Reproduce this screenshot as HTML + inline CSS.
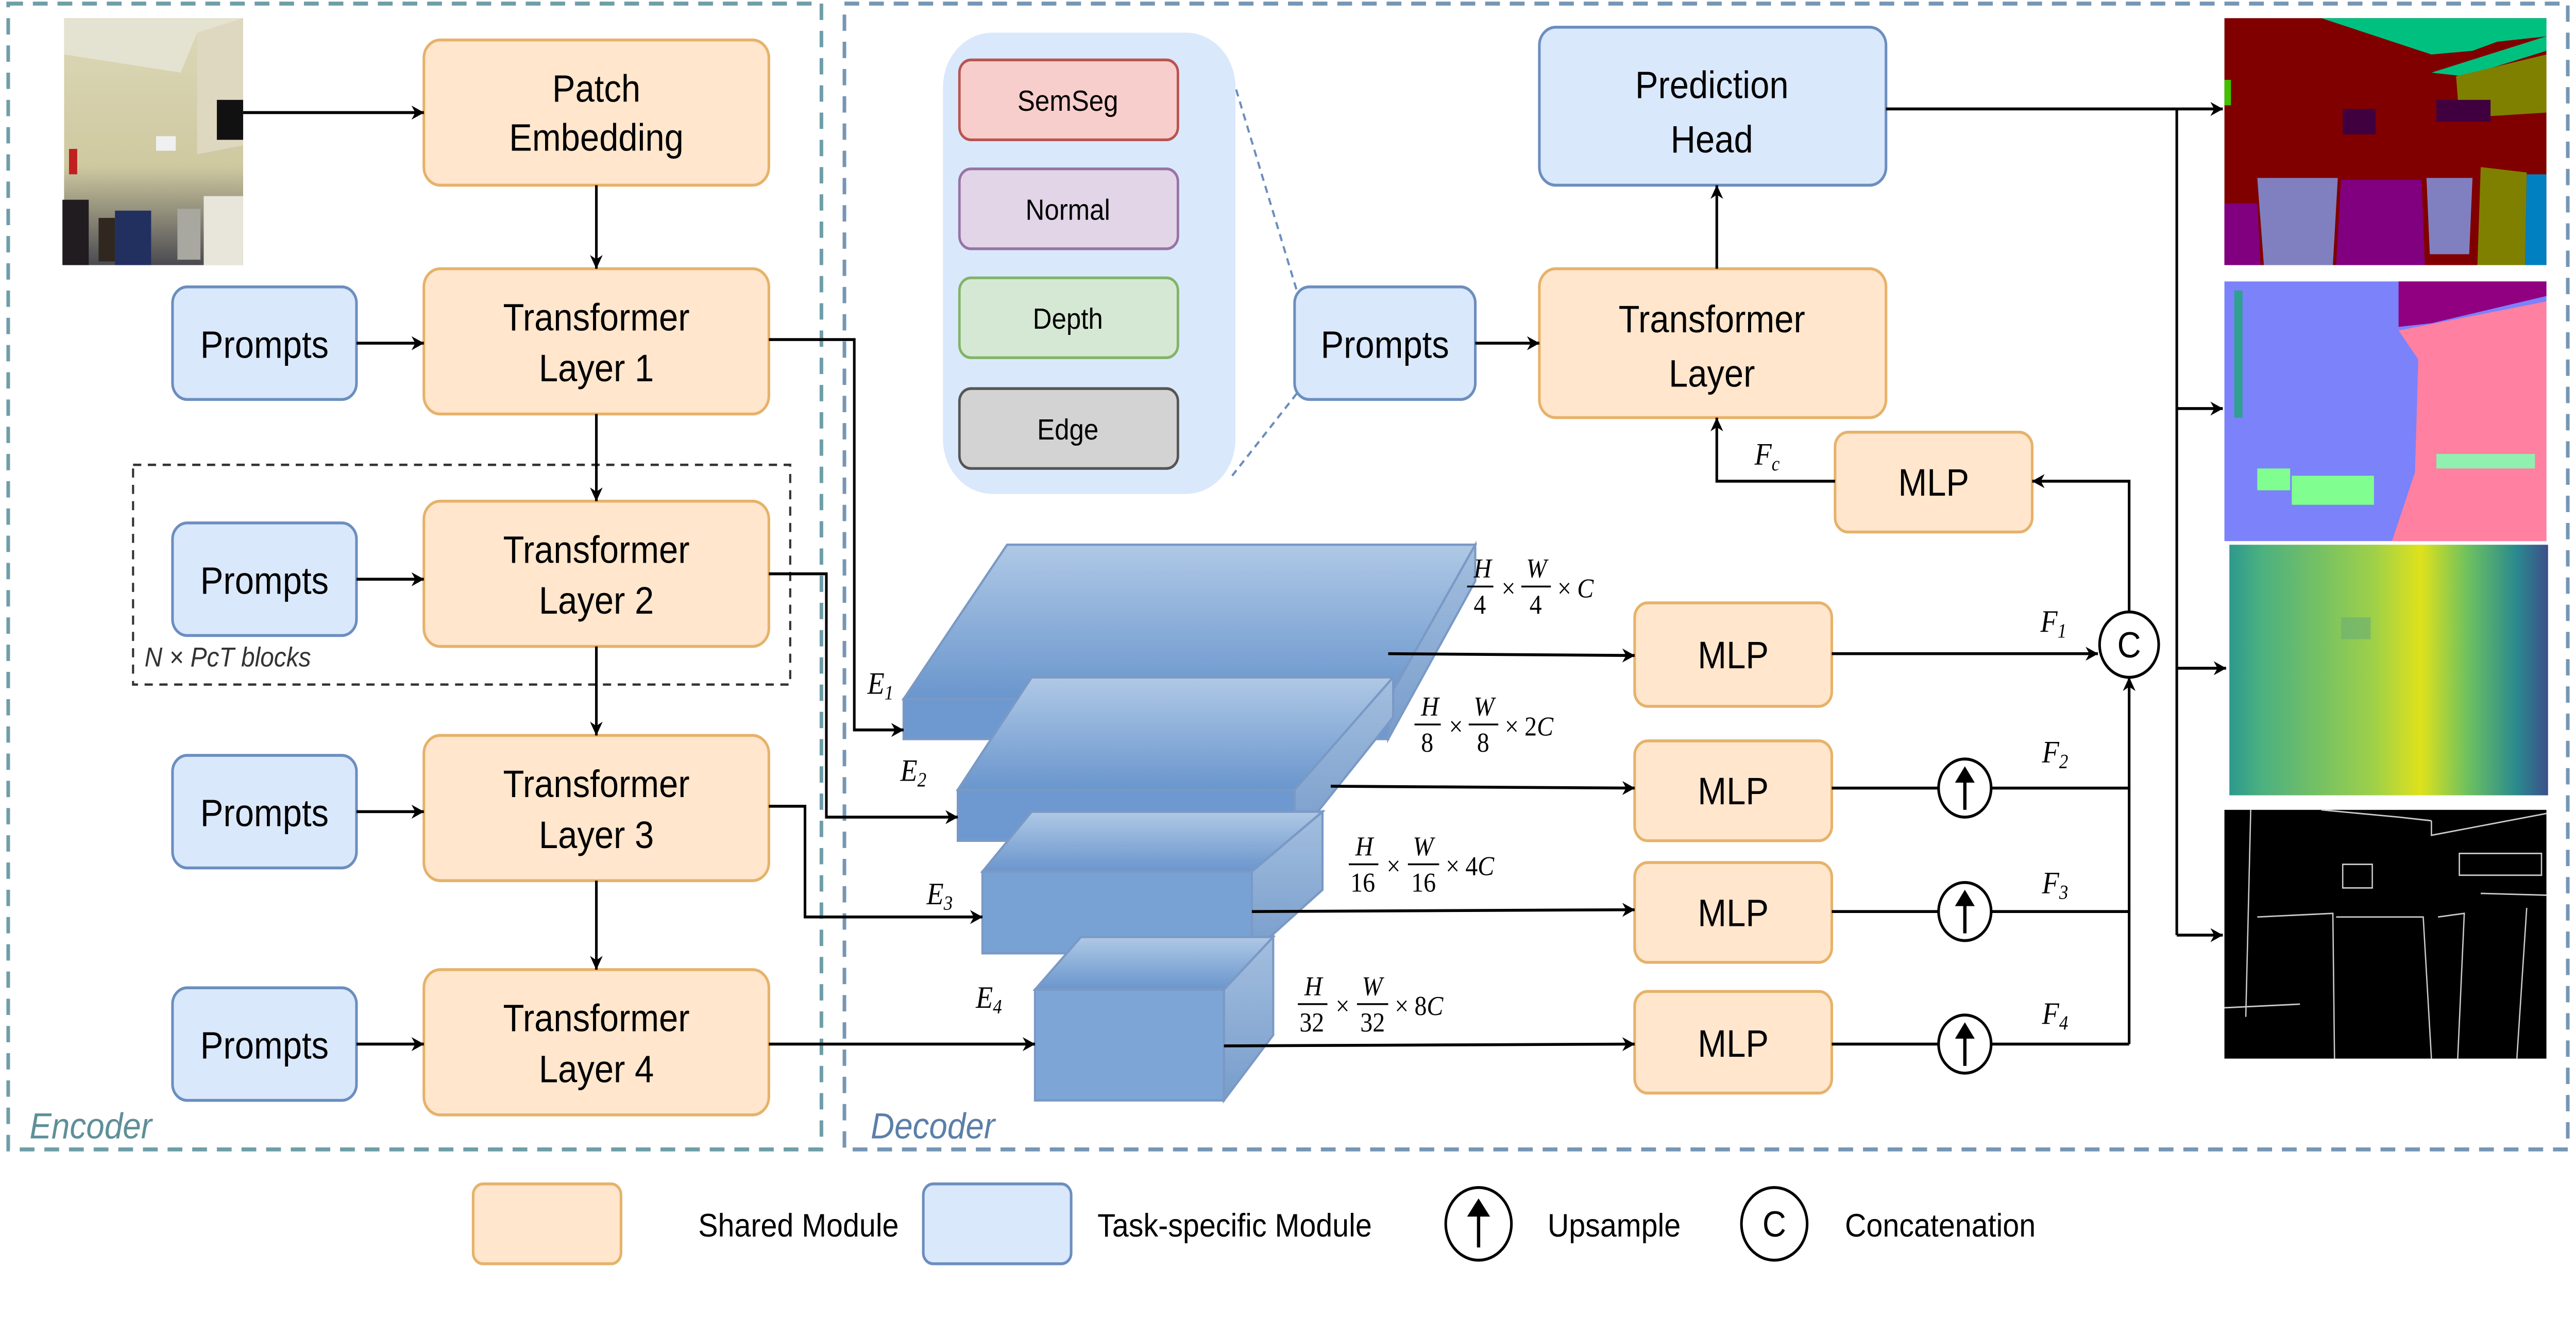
<!DOCTYPE html>
<html><head><meta charset="utf-8"><style>
html,body{margin:0;padding:0;background:#fff;width:100%;height:100%;overflow:hidden;}
svg{display:block;width:100vw;height:100vh;}
text{font-family:"Liberation Sans",sans-serif;}
.m{font-family:"Liberation Serif",serif;font-style:italic;}
.n{font-family:"Liberation Serif",serif;}
</style></head><body>
<svg viewBox="0 0 1568 726.4" preserveAspectRatio="none" xmlns="http://www.w3.org/2000/svg">
<defs>
<marker id="a" viewBox="0 0 10 10" refX="9.5" refY="5" markerWidth="5.5" markerHeight="5.5" orient="auto" markerUnits="userSpaceOnUse" style="overflow:visible">
<path d="M0,0 L10,5 L0,10 L3,5 Z" fill="#000" transform="scale(1.4) translate(-3,-1.4)"/>
</marker>
<linearGradient id="cg" x1="0" y1="0" x2="0" y2="1"><stop offset="0" stop-color="#a7c3e3"/><stop offset="1" stop-color="#5a8bc8"/></linearGradient>
<linearGradient id="cs" x1="0" y1="0" x2="0" y2="1"><stop offset="0" stop-color="#9ab8dc"/><stop offset="1" stop-color="#6a93c6"/></linearGradient>
<linearGradient id="dg" x1="0" y1="0" x2="1" y2="0"><stop offset="0" stop-color="#2c9a8e"/><stop offset="0.1" stop-color="#4cb080"/><stop offset="0.45" stop-color="#9dd04a"/><stop offset="0.6" stop-color="#dfe21c"/><stop offset="0.75" stop-color="#6cc060"/><stop offset="0.9" stop-color="#2a8a8e"/><stop offset="1" stop-color="#3c4f8a"/></linearGradient>
<linearGradient id="pg" x1="0" y1="0" x2="0" y2="1"><stop offset="0" stop-color="#dcd8b8"/><stop offset="0.6" stop-color="#cfc9a0"/><stop offset="1" stop-color="#4a4a50"/></linearGradient>
</defs>

<rect x="5" y="2" width="495" height="631" fill="none" stroke="#6e9ea8" stroke-width="2.2" stroke-dasharray="9,6"/>
<rect x="514" y="2" width="1049" height="631" fill="none" stroke="#7696b4" stroke-width="2.2" stroke-dasharray="9,6"/>
<text x="18" y="627" font-size="20" font-style="italic" fill="#5e8f98">Encoder</text>
<text x="530" y="627" font-size="20" font-style="italic" fill="#5b7fa8">Decoder</text>

<g>
<rect x="39" y="10" width="109" height="136" fill="url(#pg)"/>
<polygon points="39,10 148,10 148,18 120,18 110,40 39,30" fill="#e4e2d0"/>
<polygon points="120,18 148,10 148,80 120,85" fill="#ded8c0"/>
<rect x="132" y="55" width="16" height="22" fill="#111"/>
<rect x="95" y="75" width="12" height="8" fill="#f0f0f0"/>
<rect x="38" y="110" width="16" height="36" fill="#201c20"/>
<rect x="70" y="116" width="22" height="30" fill="#223060"/>
<rect x="108" y="115" width="14" height="28" fill="#a8a8a0"/>
<rect x="124" y="108" width="24" height="38" fill="#e8e6da"/>
<rect x="60" y="120" width="10" height="24" fill="#302820"/>
<rect x="42" y="82" width="5" height="14" fill="#c02020"/>
</g>

<g fill="#ffe6cc" stroke="#e6b26a" stroke-width="1.6">
<rect x="258" y="22" width="210" height="80" rx="10"/>
<rect x="258" y="148" width="210" height="80" rx="10"/>
<rect x="258" y="276" width="210" height="80" rx="10"/>
<rect x="258" y="405" width="210" height="80" rx="10"/>
<rect x="258" y="534" width="210" height="80" rx="10"/>
<rect x="937" y="148" width="211" height="82" rx="10"/>
<rect x="995" y="332" width="120" height="57" rx="8"/>
<rect x="995" y="408" width="120" height="55" rx="8"/>
<rect x="995" y="475" width="120" height="55" rx="8"/>
<rect x="995" y="546" width="120" height="56" rx="8"/>
<rect x="1117" y="238" width="120" height="55" rx="8"/>
<rect x="288" y="652" width="90" height="44" rx="6"/>
</g>
<g fill="#dae8fc" stroke="#6c8ebf" stroke-width="1.6">
<rect x="105" y="158" width="112" height="62" rx="9"/>
<rect x="105" y="288" width="112" height="62" rx="9"/>
<rect x="105" y="416" width="112" height="62" rx="9"/>
<rect x="105" y="544" width="112" height="62" rx="9"/>
<rect x="788" y="158" width="110" height="62" rx="9"/>
<rect x="937" y="15" width="211" height="87" rx="10"/>
<rect x="562" y="652" width="90" height="44" rx="6"/>
</g>
<rect x="81" y="256" width="400" height="121" fill="none" stroke="#333" stroke-width="1.3" stroke-dasharray="5,4"/>
<text x="88" y="367" font-size="15" font-style="italic" fill="#333">N × PcT blocks</text>

<g font-size="21" text-anchor="middle" fill="#000">
<text x="363" y="56">Patch</text><text x="363" y="83">Embedding</text>
<text x="363" y="182">Transformer</text><text x="363" y="210">Layer 1</text>
<text x="363" y="310">Transformer</text><text x="363" y="338">Layer 2</text>
<text x="363" y="439">Transformer</text><text x="363" y="467">Layer 3</text>
<text x="363" y="568">Transformer</text><text x="363" y="596">Layer 4</text>
<text x="161" y="197">Prompts</text><text x="161" y="327">Prompts</text>
<text x="161" y="455">Prompts</text><text x="161" y="583">Prompts</text>
<text x="843" y="197">Prompts</text>
<text x="1042" y="183">Transformer</text><text x="1042" y="213">Layer</text>
<text x="1042" y="54">Prediction</text><text x="1042" y="84">Head</text>
<text x="1055" y="368">MLP</text><text x="1055" y="443">MLP</text>
<text x="1055" y="510">MLP</text><text x="1055" y="582">MLP</text>
<text x="1177" y="273">MLP</text>
</g>

<line x1="748" y1="36" x2="790" y2="162" stroke="#6c8ebf" stroke-width="1.3" stroke-dasharray="4,3"/>
<line x1="750" y1="262" x2="790" y2="216" stroke="#6c8ebf" stroke-width="1.3" stroke-dasharray="4,3"/>
<rect x="574" y="18" width="178" height="254" rx="30" fill="#dae8fc" stroke="none"/>
<rect x="584" y="33" width="133" height="44" rx="7" fill="#f8cecc" stroke="#b85450" stroke-width="1.5"/>
<rect x="584" y="93" width="133" height="44" rx="7" fill="#e1d5e7" stroke="#9673a6" stroke-width="1.5"/>
<rect x="584" y="153" width="133" height="44" rx="7" fill="#d5e8d4" stroke="#82b366" stroke-width="1.5"/>
<rect x="584" y="214" width="133" height="44" rx="7" fill="#d3d3d3" stroke="#555" stroke-width="1.5"/>
<g font-size="16" text-anchor="middle"><text x="650" y="61">SemSeg</text><text x="650" y="121">Normal</text><text x="650" y="181">Depth</text><text x="650" y="242">Edge</text></g>

<g stroke="#6c8ebf" stroke-width="1.3" opacity="0.9">
<polygon points="550,385 613,300 898,300 845,385" fill="url(#cg)"/>
<polygon points="845,385 898,300 898,320 845,407" fill="url(#cs)"/>
<rect x="550" y="385" width="295" height="22" fill="#5f8ecb"/>
<polygon points="583,435 628,373 848,373 788,435" fill="url(#cg)"/>
<polygon points="788,435 848,373 848,395 788,463" fill="url(#cs)"/>
<rect x="583" y="435" width="205" height="28" fill="#5f8ecb"/>
<polygon points="598,480 628,447 805,447 762,480" fill="url(#cg)"/>
<polygon points="762,480 805,447 805,490 762,525" fill="url(#cs)"/>
<rect x="598" y="480" width="164" height="45" fill="#6b98d0"/>
<polygon points="630,545 658,516 775,516 745,545" fill="url(#cg)"/>
<polygon points="745,545 775,516 775,570 745,606" fill="url(#cs)"/>
<rect x="630" y="545" width="115" height="61" fill="#6f9cd2"/>
</g>
<g font-size="17">
<text x="528" y="382" class="m">E<tspan font-size="11" dy="3">1</tspan></text>
<text x="548" y="430" class="m">E<tspan font-size="11" dy="3">2</tspan></text>
<text x="564" y="498" class="m">E<tspan font-size="11" dy="3">3</tspan></text>
<text x="594" y="555" class="m">E<tspan font-size="11" dy="3">4</tspan></text>
<text x="1242" y="348" class="m">F<tspan font-size="11" dy="3">1</tspan></text>
<text x="1243" y="420" class="m">F<tspan font-size="11" dy="3">2</tspan></text>
<text x="1243" y="492" class="m">F<tspan font-size="11" dy="3">3</tspan></text>
<text x="1243" y="564" class="m">F<tspan font-size="11" dy="3">4</tspan></text>
<text x="1068" y="256" class="m">F<tspan font-size="11" dy="3">c</tspan></text>
</g>
<g font-size="15">
<g transform="translate(893,318)"><text class="m" x="4" y="0">H</text><line x1="0" y1="5" x2="16" y2="5" stroke="#000"/><text class="n" x="4" y="20">4</text><text class="n" x="21" y="11">×</text><text class="m" x="36" y="0">W</text><line x1="33" y1="5" x2="51" y2="5" stroke="#000"/><text class="n" x="38" y="20">4</text><text class="n" x="55" y="11">×</text><text class="m" x="67" y="11">C</text></g>
<g transform="translate(861,394)"><text class="m" x="4" y="0">H</text><line x1="0" y1="5" x2="16" y2="5" stroke="#000"/><text class="n" x="4" y="20">8</text><text class="n" x="21" y="11">×</text><text class="m" x="36" y="0">W</text><line x1="33" y1="5" x2="51" y2="5" stroke="#000"/><text class="n" x="38" y="20">8</text><text class="n" x="55" y="11">×</text><text class="n" x="67" y="11">2<tspan class="m">C</tspan></text></g>
<g transform="translate(821,471)"><text class="m" x="4" y="0">H</text><line x1="0" y1="5" x2="18" y2="5" stroke="#000"/><text class="n" x="1" y="20">16</text><text class="n" x="23" y="11">×</text><text class="m" x="39" y="0">W</text><line x1="36" y1="5" x2="55" y2="5" stroke="#000"/><text class="n" x="38" y="20">16</text><text class="n" x="59" y="11">×</text><text class="n" x="71" y="11">4<tspan class="m">C</tspan></text></g>
<g transform="translate(790,548)"><text class="m" x="4" y="0">H</text><line x1="0" y1="5" x2="18" y2="5" stroke="#000"/><text class="n" x="1" y="20">32</text><text class="n" x="23" y="11">×</text><text class="m" x="39" y="0">W</text><line x1="36" y1="5" x2="55" y2="5" stroke="#000"/><text class="n" x="38" y="20">32</text><text class="n" x="59" y="11">×</text><text class="n" x="71" y="11">8<tspan class="m">C</tspan></text></g>
</g>

<g stroke="#000" stroke-width="1.6" fill="none" marker-end="url(#a)">
<line x1="148" y1="62" x2="258" y2="62"/>
<line x1="363" y1="102" x2="363" y2="148"/>
<line x1="363" y1="228" x2="363" y2="276"/>
<line x1="363" y1="356" x2="363" y2="405"/>
<line x1="363" y1="485" x2="363" y2="534"/>
<line x1="217" y1="189" x2="258" y2="189"/>
<line x1="217" y1="319" x2="258" y2="319"/>
<line x1="217" y1="447" x2="258" y2="447"/>
<line x1="217" y1="575" x2="258" y2="575"/>
<polyline points="468,187 520,187 520,402 550,402"/>
<polyline points="468,316 503,316 503,450 583,450"/>
<polyline points="468,444 490,444 490,505 598,505"/>
<line x1="468" y1="575" x2="630" y2="575"/>
<line x1="845" y1="360" x2="995" y2="361"/>
<line x1="810" y1="433" x2="995" y2="434"/>
<line x1="762" y1="502" x2="995" y2="501"/>
<line x1="745" y1="576" x2="995" y2="575"/>
<line x1="1115" y1="360" x2="1277" y2="360"/>
<polyline points="1296,337 1296,265 1237,265"/>
<polyline points="1117,265 1045,265 1045,230"/>
<line x1="1045" y1="148" x2="1045" y2="102"/>
<line x1="898" y1="189" x2="937" y2="189"/>
<line x1="1325" y1="60" x2="1353" y2="60"/>
<line x1="1325" y1="225" x2="1353" y2="225"/>
<line x1="1325" y1="368" x2="1355" y2="368"/>
<line x1="1325" y1="515" x2="1353" y2="515"/>
</g>
<g stroke="#000" stroke-width="1.6" fill="none">
<line x1="1148" y1="60" x2="1325" y2="60"/>
<line x1="1325" y1="60" x2="1325" y2="515"/>
<line x1="1115" y1="434" x2="1180" y2="434"/><line x1="1212" y1="434" x2="1296" y2="434"/>
<line x1="1115" y1="502" x2="1180" y2="502"/><line x1="1212" y1="502" x2="1296" y2="502"/>
<line x1="1115" y1="575" x2="1180" y2="575"/><line x1="1212" y1="575" x2="1296" y2="575"/>
</g>
<line x1="1296" y1="575" x2="1296" y2="373" stroke="#000" stroke-width="1.6" marker-end="url(#a)"/>
<g stroke="#000" stroke-width="1.6" fill="#fff">
<circle cx="1296" cy="355" r="18"/>
<circle cx="1196" cy="434" r="16"/><circle cx="1196" cy="502" r="16"/><circle cx="1196" cy="575" r="16"/>
<circle cx="900" cy="674" r="20"/><circle cx="1080" cy="674" r="20"/>
</g>
<text x="1296" y="362" font-size="20" text-anchor="middle">C</text>
<text x="1080" y="681" font-size="20" text-anchor="middle">C</text>
<g stroke="#000" stroke-width="2" fill="#000">
<line x1="1196" y1="446" x2="1196" y2="426"/><polygon points="1196,422 1190,431 1202,431" stroke="none"/>
<line x1="1196" y1="514" x2="1196" y2="494"/><polygon points="1196,490 1190,499 1202,499" stroke="none"/>
<line x1="1196" y1="587" x2="1196" y2="567"/><polygon points="1196,563 1190,572 1202,572" stroke="none"/>
<line x1="900" y1="687" x2="900" y2="665"/><polygon points="900,660 893,670 907,670" stroke="none"/>
</g>

<g>
<rect x="1354" y="10" width="196" height="136" fill="#800000"/>
<polygon points="1413,10 1550,10 1550,20 1520,23 1505,28 1480,30" fill="#00c080"/>
<polygon points="1480,40 1550,20 1550,28 1500,42" fill="#00c080"/>
<polygon points="1495,42 1550,30 1550,62 1497,65" fill="#808000"/>
<rect x="1483" y="55" width="33" height="12" fill="#400040"/>
<rect x="1426" y="60" width="20" height="14" fill="#400040"/>
<rect x="1354" y="44" width="4" height="14" fill="#40c000"/>
<polygon points="1374,98 1423,98 1420,146 1378,146" fill="#8080c0"/>
<polygon points="1425,99 1474,99 1476,146 1422,146" fill="#800080"/>
<polygon points="1477,98 1505,98 1503,140 1479,140" fill="#8080c0"/>
<polygon points="1510,92 1538,95 1537,146 1508,146" fill="#808000"/>
<polygon points="1538,96 1550,96 1550,146 1537,146" fill="#0080c0"/>
<polygon points="1354,112 1374,112 1376,146 1354,146" fill="#800080"/>
</g>
<g>
<rect x="1354" y="155" width="196" height="143" fill="#7b82fa"/>
<polygon points="1460,155 1550,155 1550,163 1480,178 1460,180" fill="#900080"/>
<polygon points="1460,182 1550,166 1550,298 1456,298 1470,260 1472,198" fill="#ff80a0"/>
<rect x="1395" y="262" width="50" height="16" fill="#80ff90"/>
<rect x="1374" y="258" width="20" height="12" fill="#80ff90"/>
<rect x="1483" y="250" width="60" height="8" fill="#90f0b0"/>
<rect x="1360" y="160" width="5" height="70" fill="#30a090"/>
</g>
<rect x="1357" y="300" width="194" height="138" fill="url(#dg)"/>
<rect x="1425" y="340" width="18" height="12" fill="#6fb070" opacity="0.7"/>
<g>
<rect x="1354" y="446" width="196" height="137" fill="#000"/>
<g stroke="#ccc" stroke-width="0.8" fill="none">
<polyline points="1413,446 1460,450 1480,452"/>
<polyline points="1480,452 1480,460 1550,448"/>
<rect x="1497" y="470" width="50" height="12"/>
<rect x="1426" y="476" width="18" height="13"/>
<polyline points="1370,446 1367,560"/>
<polyline points="1374,505 1420,503 1421,583"/>
<polyline points="1422,505 1475,505 1480,583"/>
<polyline points="1484,505 1500,503 1496,583"/>
<polyline points="1510,492 1550,493"/>
<polyline points="1538,500 1532,583"/>
<polyline points="1354,555 1400,553"/>
</g>
</g>

<g font-size="18">
<text x="425" y="681">Shared Module</text>
<text x="668" y="681">Task-specific Module</text>
<text x="942" y="681">Upsample</text>
<text x="1123" y="681">Concatenation</text>
</g>
</svg>
</body></html>
